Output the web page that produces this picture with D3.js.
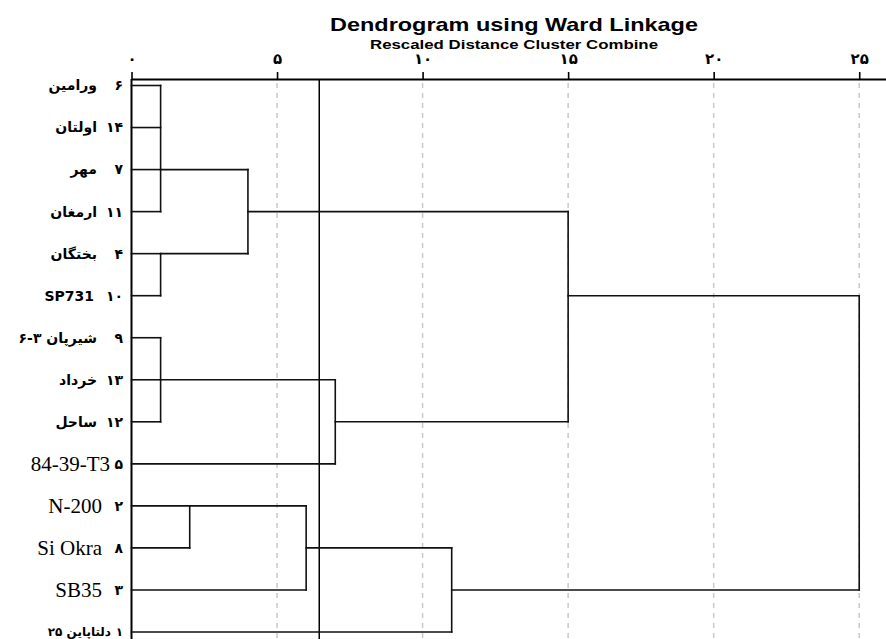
<!DOCTYPE html>
<html>
<head>
<meta charset="utf-8">
<script src="https://cdn.jsdelivr.net/npm/d3@7"></script>
<style>
  body { margin: 0; background: #fff; }
</style>
</head>
<body>
<div id="chart"></div>
<script>

// leaves, top to bottom
var leafNumbers = ["۶", "۱۴", "۷", "۱۱", "۴", "۱۰", "۹", "۱۳", "۱۲", "۵", "۲", "۸", "۳", "۱"];
var leafNames = ["ورامین", "اولتان", "مهر", "ارمغان", "بختگان", "SP731", "شیرپان ۳-۶", "خرداد", "ساحل",
                 "84-39-T3", "N-200", "Si Okra", "SB35", "دلتاپاین ۲۵"];

// merges: ids 0-13 are leaves, merge k gets id 14 + k
var mergeChildren = [[0, 1, 2, 3], [4, 5], [6, 7, 8], [10, 11], [14, 15], [16, 9], [17, 12], [18, 19], [20, 13], [21, 22]];
var mergeHeights = [1, 1, 1, 2, 4, 7, 6, 15, 11, 25];
// leaf row the joined cluster continues on
var mergeRows = [2, 4, 7, 10, 3, 8, 11, 5, 12, 8];

var cutHeight = 6.45;
var axisTicks = [0, 5, 10, 15, 20, 25];

var title = "Dendrogram using Ward Linkage";
var subtitle = "Rescaled Distance Cluster Combine";

var width = 886,
    height = 639,
    axisY = 79;

var toPersian = function (s) {
    return String(s).replace(/\d/g, function (d) { return "۰۱۲۳۴۵۶۷۸۹"[+d]; });
};

var x = d3.scaleLinear()
    .domain([0, 25.92])
    .range([131.5, 886]);

var y = d3.scalePoint()
    .domain(d3.range(leafNames.length))
    .range([85.5, 632]);

var svg = d3.select("#chart")
    .append("svg")
    .attr("width", width)
    .attr("height", height);

// node table: height + row for every leaf and merge
var nodes = [];
leafNames.forEach(function (n, i) {
    nodes.push({ h: 0, row: i });
});
mergeChildren.forEach(function (c, k) {
    nodes.push({ h: mergeHeights[k], row: mergeRows[k], children: c });
});

// grid lines
svg.append("g")
    .selectAll("line")
    .data(axisTicks.filter(function (d) { return d > 0; }))
    .enter().append("line")
    .attr("x1", function (d) { return x(d); })
    .attr("x2", function (d) { return x(d); })
    .attr("y1", axisY + 4)
    .attr("y2", height)
    .style("stroke", "#c9c9c9")
    .style("stroke-width", 1.5)
    .style("stroke-dasharray", "5,5");

// title (the original is stretched a bit wide)
svg.append("text")
    .attr("x", 514)
    .attr("y", 31)
    .attr("text-anchor", "middle")
    .attr("textLength", 368)
    .attr("lengthAdjust", "spacingAndGlyphs")
    .style("font", "bold 18.5px 'Liberation Sans', Arial, sans-serif")
    .text(title);

svg.append("text")
    .attr("x", 514)
    .attr("y", 48.5)
    .attr("text-anchor", "middle")
    .attr("textLength", 288)
    .attr("lengthAdjust", "spacingAndGlyphs")
    .style("font", "bold 12.5px 'Liberation Sans', Arial, sans-serif")
    .text(subtitle);

// top axis
var xAxis = d3.axisTop(x)
    .tickValues(axisTicks)
    .tickSizeInner(7)
    .tickSizeOuter(0)
    .tickPadding(8)
    .tickFormat(toPersian);

var xGuide = svg.append("g")
    .attr("transform", "translate(0," + axisY + ")")
    .call(xAxis);
xGuide.select(".domain")
    .style("stroke", "#000")
    .style("stroke-width", 2.2);
xGuide.selectAll(".tick line")
    .style("stroke", "#000")
    .style("stroke-width", 1.6);
xGuide.selectAll(".tick text")
    .style("font", "bold 15px 'DejaVu Sans', sans-serif")
    .style("fill", "#000");

// left frame line and cut line
svg.append("line")
    .attr("x1", x(0)).attr("x2", x(0))
    .attr("y1", axisY).attr("y2", height)
    .style("stroke", "#000")
    .style("stroke-width", 2);

svg.append("line")
    .attr("x1", x(cutHeight)).attr("x2", x(cutHeight))
    .attr("y1", axisY).attr("y2", height)
    .style("stroke", "#000")
    .style("stroke-width", 1.5);

// dendrogram links
var segs = [];
nodes.forEach(function (nd) {
    if (!nd.children) return;
    var rows = nd.children.map(function (c) { return nodes[c].row; });
    segs.push([nd.h, d3.min(rows), nd.h, d3.max(rows)]);
    nd.children.forEach(function (c) {
        segs.push([nodes[c].h, nodes[c].row, nd.h, nodes[c].row]);
    });
});

svg.append("g")
    .selectAll("line")
    .data(segs)
    .enter().append("line")
    .attr("x1", function (d) { return x(d[0]); })
    .attr("y1", function (d) { return y(d[1]); })
    .attr("x2", function (d) { return x(d[2]); })
    .attr("y2", function (d) { return y(d[3]); })
    .style("stroke", "#111")
    .style("stroke-width", 1.6)
    .style("stroke-linecap", "square");

// leaf labels
var serifRows = [9, 10, 11, 12];
var isLatin = function (i) { return serifRows.indexOf(i) >= 0 || i === 5; };

var labels = svg.append("g")
    .selectAll("g")
    .data(leafNames)
    .enter().append("g")
    .attr("transform", function (d, i) { return "translate(0," + y(i) + ")"; });

labels.append("text")
    .attr("x", 123)
    .attr("dy", "0.35em")
    .attr("text-anchor", "end")
    .style("font", function (d, i) { return i === 13 ? "bold 12px 'DejaVu Sans', sans-serif" : "bold 14px 'DejaVu Sans', sans-serif"; })
    .text(function (d, i) { return leafNumbers[i]; });

// rtl names: anchor "start" sits on the right edge
labels.append("text")
    .attr("x", function (d, i) {
        if (serifRows.indexOf(i) >= 0) return i === 9 ? 110 : 102;
        if (i === 5) return 94;
        return i === 13 ? 111 : 97;
    })
    .attr("dy", "0.35em")
    .attr("direction", function (d, i) { return isLatin(i) ? "ltr" : "rtl"; })
    .attr("text-anchor", function (d, i) { return isLatin(i) ? "end" : "start"; })
    .style("font", function (d, i) {
        if (serifRows.indexOf(i) >= 0) return "21px 'Liberation Serif', 'Times New Roman', serif";
        if (i === 13) return "bold 12px 'DejaVu Sans', sans-serif";
        return "bold 14px 'DejaVu Sans', sans-serif";
    })
    .text(function (d) { return d; });

</script>
</body>
</html>
